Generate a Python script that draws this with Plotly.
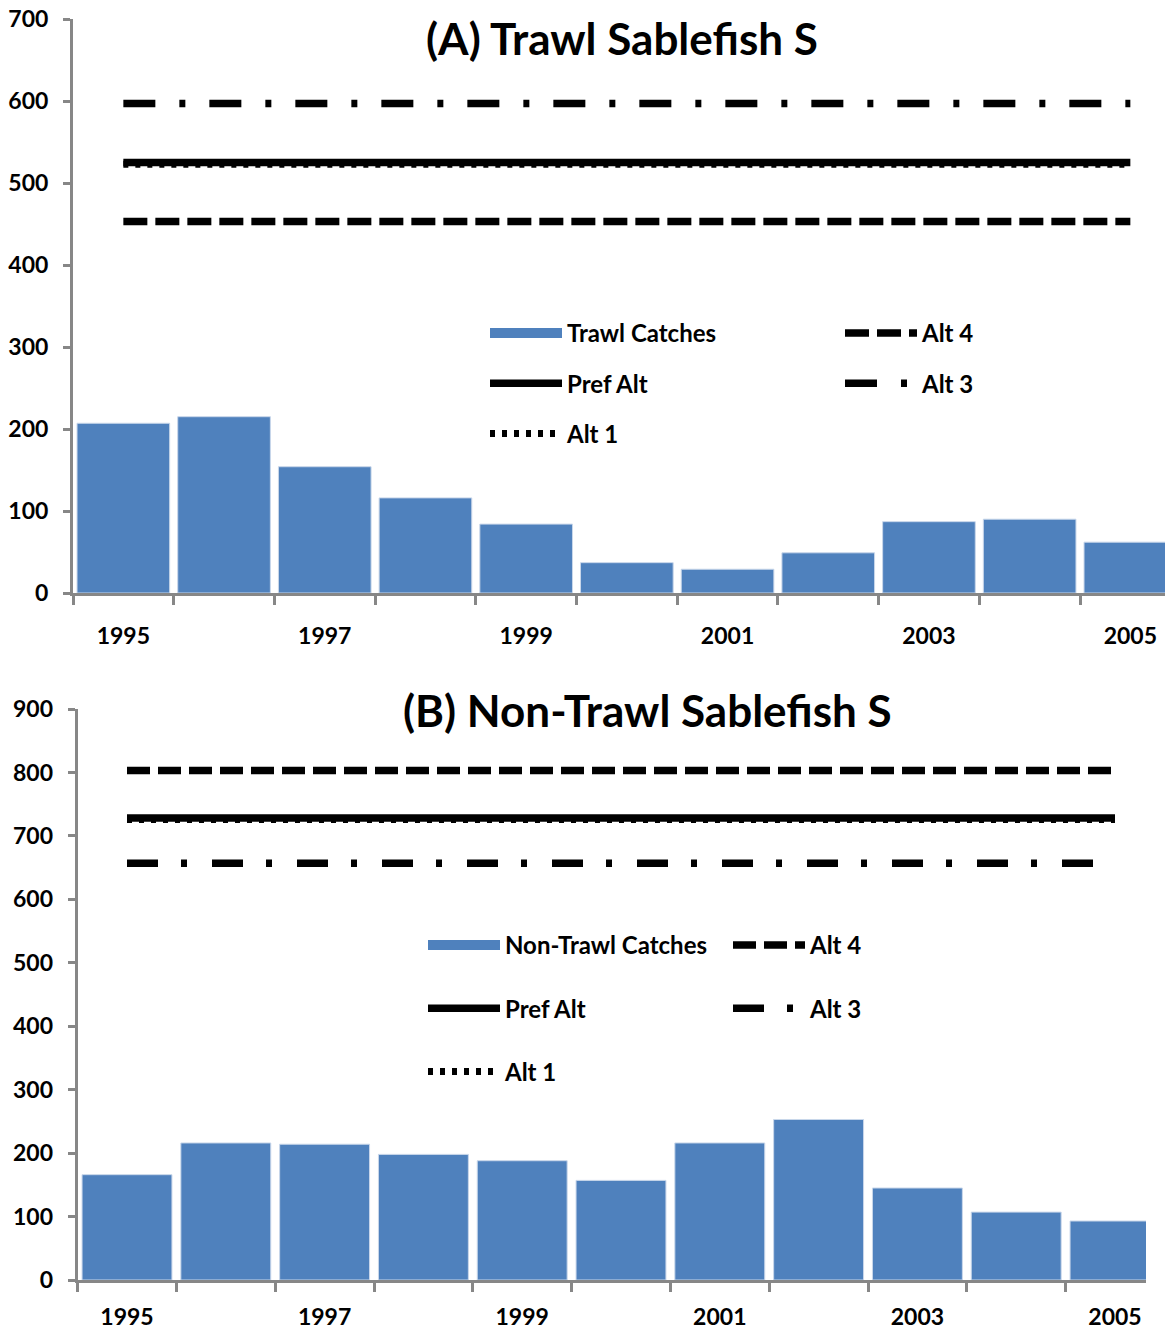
import plotly.graph_objects as go

# ---------------- data ----------------
years = [1995, 1996, 1997, 1998, 1999, 2000, 2001, 2002, 2003, 2004, 2005]
year_labels = ["1995", "1997", "1999", "2001", "2003", "2005"]
label_years = [1995, 1997, 1999, 2001, 2003, 2005]

trawl_catches = [207, 215, 154, 116, 84, 37, 29, 49, 87, 90, 62]
trawl_pref = 525
trawl_alt1 = 523
trawl_alt4 = 453
trawl_alt3 = 597

nontrawl_catches = [166, 216, 214, 198, 188, 157, 216, 253, 145, 107, 93]
nontrawl_pref = 728
nontrawl_alt1 = 726
nontrawl_alt4 = 803
nontrawl_alt3 = 657

top_yticks = [0, 100, 200, 300, 400, 500, 600, 700]
bot_yticks = [0, 100, 200, 300, 400, 500, 600, 700, 800, 900]

# ---------------- layout helpers ----------------
FW, FH = 1165, 1333
FONT = "Lato"
BAR_COLOR = "#4F81BD"
AXIS_GRAY = "#878787"


def px_x(p):
    return p / FW


def px_y(p):
    return (FH - p) / FH


fig = go.Figure()


def add_panel(catches, cname, pref, alt1, alt4, alt3, xa, ya, lg_a, lg_b, bw, d4, d3):
    # bars
    fig.add_trace(go.Bar(x=years, y=catches, name=cname, width=bw, showlegend=False,
                         marker=dict(color=BAR_COLOR, line=dict(color="#C9D7EA", width=1)),
                         xaxis=xa, yaxis=ya))
    # legend swatch for the bars (no data drawn)
    fig.add_trace(go.Scatter(x=[None], y=[None], mode="lines", name=cname,
                             line=dict(color=BAR_COLOR, width=16),
                             xaxis=xa, yaxis=ya, legend=lg_a, legendrank=1,
                             legendgroup=lg_a + "1"))
    fig.add_trace(go.Scatter(x=years, y=[alt1] * len(years), mode="lines", name="Alt 1",
                             line=dict(color="black", width=7, dash="5px,7px"),
                             xaxis=xa, yaxis=ya, legend=lg_a, legendrank=3,
                             legendgroup=lg_a + "3"))
    fig.add_trace(go.Scatter(x=years, y=[pref] * len(years), mode="lines", name="Pref Alt",
                             line=dict(color="black", width=7.5),
                             xaxis=xa, yaxis=ya, legend=lg_a, legendrank=2,
                             legendgroup=lg_a + "2"))
    fig.add_trace(go.Scatter(x=years, y=[alt4] * len(years), mode="lines", name="Alt 4",
                             line=dict(color="black", width=7.5, dash=d4),
                             xaxis=xa, yaxis=ya, legend=lg_b, legendrank=1,
                             legendgroup=lg_b + "4"))
    fig.add_trace(go.Scatter(x=years, y=[alt3] * len(years), mode="lines", name="Alt 3",
                             line=dict(color="black", width=7.5, dash=d3),
                             xaxis=xa, yaxis=ya, legend=lg_b, legendrank=2,
                             legendgroup=lg_b + "5"))


add_panel(trawl_catches, "Trawl Catches", trawl_pref, trawl_alt1, trawl_alt4, trawl_alt3,
          "x", "y", "legend", "legend2", 0.92, "24px,8px", "32px,24px,6px,24px")
add_panel(nontrawl_catches, "Non-Trawl Catches", nontrawl_pref, nontrawl_alt1, nontrawl_alt4,
          nontrawl_alt3, "x2", "y2", "legend3", "legend4", 0.91, "23px,8px", "31px,23px,6px,25px")

tickfont = dict(family=FONT, size=23, color="black", weight="bold")

# axis pixel geometry (page pixels)
topL, topR = 73, FW
top_cat = 100.7
botL, botR = 77.6, 1146
bot_cat = 98.8

boundaries = [y - 0.5 for y in years] + [years[-1] + 0.5]


def xaxis_cfg(left, right, cat, anchor, standoff):
    return dict(
        domain=[px_x(left), px_x(right)],
        range=[years[0] - 0.5, years[0] - 0.5 + (right - left) / cat],
        anchor=anchor, automargin=False, ticklabeloverflow="allow",
        tickmode="array", tickvals=label_years, ticktext=year_labels,
        ticks="", showgrid=False, zeroline=False,
        showline=True, linecolor=AXIS_GRAY, linewidth=3,
        tickfont=tickfont, ticklabelstandoff=standoff,
        minor=dict(tickmode="array", tickvals=boundaries, ticks="outside",
                   ticklen=9, tickwidth=3, tickcolor=AXIS_GRAY, showgrid=False),
    )


def yaxis_cfg(top_px, bottom_px, ymax, ticks, anchor):
    return dict(
        domain=[px_y(bottom_px), px_y(top_px)],
        range=[0, ymax], anchor=anchor, automargin=False, ticklabeloverflow="allow",
        tickmode="array", tickvals=ticks, ticktext=[str(t) for t in ticks],
        ticks="outside", ticklen=7, tickwidth=3, tickcolor=AXIS_GRAY,
        showline=True, linecolor=AXIS_GRAY, linewidth=3,
        showgrid=False, zeroline=False,
        tickfont=tickfont, ticklabelstandoff=10,
    )


legend_common = dict(
    bgcolor="rgba(0,0,0,0)", borderwidth=0,
    font=dict(family=FONT, size=24, color="black", weight="bold"),
    xanchor="left", yanchor="top", orientation="v",
    itemwidth=72,
)

fig.update_layout(
    width=FW, height=FH,
    margin=dict(l=0, r=0, t=0, b=0, autoexpand=False),
    paper_bgcolor="white", plot_bgcolor="white",
    showlegend=True,
    xaxis=xaxis_cfg(topL, topR, top_cat, "y", 20),
    yaxis=yaxis_cfg(19, 593, 700, top_yticks, "x"),
    xaxis2=xaxis_cfg(botL, botR, bot_cat, "y2", 14),
    yaxis2=yaxis_cfg(709, 1280, 900, bot_yticks, "x2"),
    legend=dict(**legend_common, x=px_x(485), y=px_y(311), tracegroupgap=16),
    legend2=dict(**legend_common, x=px_x(840), y=px_y(311), tracegroupgap=16),
    legend3=dict(**legend_common, x=px_x(423), y=px_y(923), tracegroupgap=29),
    legend4=dict(**legend_common, x=px_x(728), y=px_y(923), tracegroupgap=29),
    annotations=[
        dict(text="(A) Trawl Sablefish S", x=px_x(622), y=px_y(38), xref="paper", yref="paper",
             showarrow=False, xanchor="center", yanchor="middle",
             font=dict(family=FONT, size=44, color="black", weight="bold")),
        dict(text="(B) Non-Trawl Sablefish S", x=px_x(647), y=px_y(710), xref="paper", yref="paper",
             showarrow=False, xanchor="center", yanchor="middle",
             font=dict(family=FONT, size=44, color="black", weight="bold")),
    ],
)

fig.write_html("out.html",
               config={"displayModeBar": False},
               post_script="document.body.style.margin='0';document.body.style.overflow='hidden';")
